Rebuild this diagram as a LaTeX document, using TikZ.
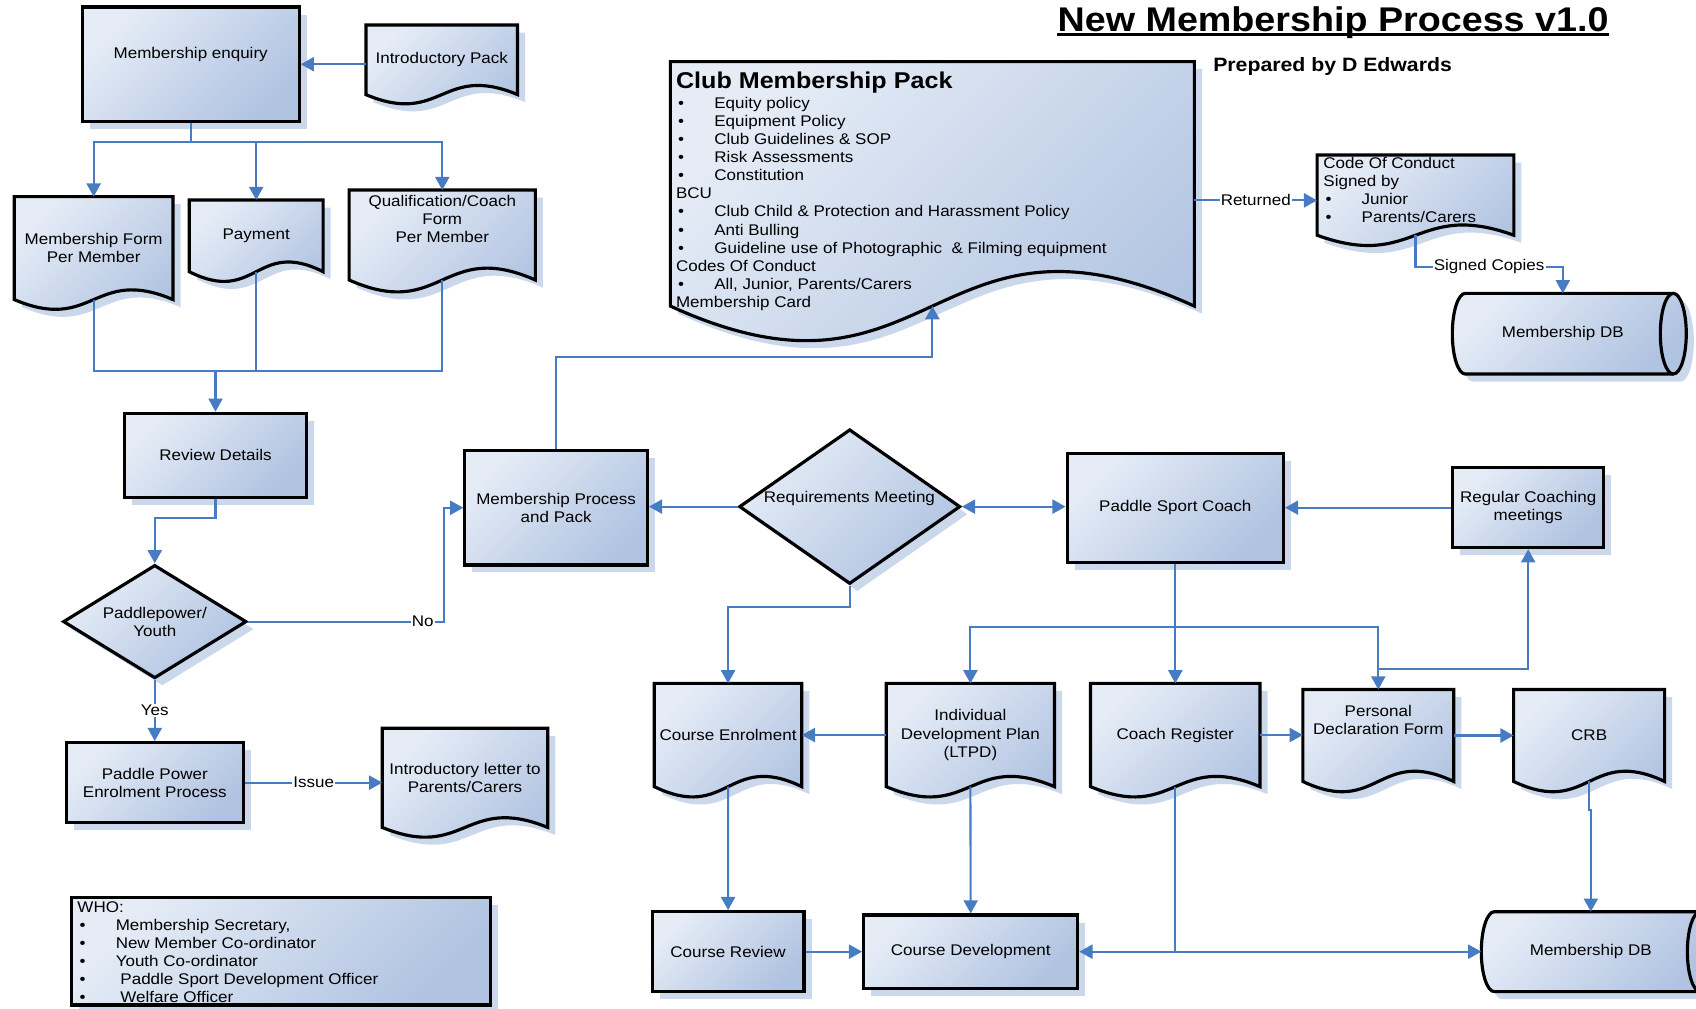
\documentclass[tikz,border=0pt]{standalone}
\usepackage{fontspec}
\setmainfont{Liberation Sans}[FakeStretch=1.1]
\usetikzlibrary{arrows.meta,calc,shapes.geometric,shadows,backgrounds}

\definecolor{boxlight}{RGB}{229,236,246}
\definecolor{boxdark}{RGB}{176,195,225}
\definecolor{shadowblue}{RGB}{203,216,236}
\definecolor{linkblue}{RGB}{72,124,194}

\newcommand\dpx{0.021633cm}
\newcommand\blt{\makebox[21.8pt][l]{\hspace{1.2pt}\textbullet}}

% document: rectangle with a wavy lower edge
\newcommand\docwave[2]{%
  \path[shapefill] (#1.north west) -- (#1.north east) -- (#1.south east)
    .. controls ($(#1.south)+(0,-3.46*#2)$) and ($(#1.south)+(0,3.46*#2)$) .. (#1.south west) -- cycle;}

% stored data: lying drum
\newcommand\drum[2]{%
  \path[shapefill] ($(#1.north west)+(12,0)$) -- (#1.north east)
    arc[start angle=90, end angle=-90, x radius=12*\dpx, y radius=#2*\dpx]
    -- ($(#1.south west)+(12,0)$)
    arc[start angle=270, end angle=90, x radius=12*\dpx, y radius=#2*\dpx] -- cycle;
  \draw[line width=1.8pt] (#1.north east)
    arc[start angle=90, end angle=270, x radius=12*\dpx, y radius=#2*\dpx];}

\tikzset{
  shapefill/.style={draw=black, line width=1.8pt, top color=boxlight, bottom color=boxdark, shading angle=45,
    drop shadow={shadow xshift=4.3pt, shadow yshift=-4.3pt, fill=shadowblue, opacity=1}},
  sz/.style 2 args={minimum width=#1*\dpx, minimum height=#2*\dpx},
  box/.style={shapefill, rectangle, align=center, inner sep=2pt},
  decision/.style={shapefill, diamond, align=center, inner sep=0pt, shape aspect=1.6},
  doc/.style={rectangle, align=center, inner sep=2pt, outer sep=0pt},
  link/.style={draw=linkblue, line width=1.2pt, -{Triangle[length=7.5pt, width=8pt]}},
  twolink/.style={draw=linkblue, line width=1.2pt, {Triangle[length=7.5pt, width=8pt]}-{Triangle[length=7.5pt, width=8pt]}},
  wire/.style={draw=linkblue, line width=1.2pt},
  linklabel/.style={fill=white, inner sep=0.6pt},
  listtext/.style={anchor=north west, inner sep=0pt, align=left},
}

\begin{document}
\begin{tikzpicture}[x=\dpx, y=-\dpx, font=\fontsize{8.8}{10.3}\selectfont]
        \useasboundingbox (0,0) rectangle (1568,932);

        % Title.
        \node[inner sep=0pt, anchor=base, font=\fontsize{19.5}{22}\selectfont\bfseries] (title) at (1232.5,29.3) {New Membership Process v1.0};
        \draw[line width=1.4pt] ([yshift=-1.5pt]title.base west) -- ([yshift=-1.5pt]title.base east);
        \node[inner sep=0pt, anchor=base, font=\fontsize{11}{13}\selectfont\bfseries] (prep) at (1232,66.3) {Prepared by D Edwards};

        % Boxes.
        \node[box, sz={200.6}{105.8}] (enq) at (176.3,59.4) {};
        \node[box, sz={168.9}{77.7}] (review) at (199.25,420.95) {Review Details};
        \node[box, sz={168.7}{105.7}] (mpp) at (514.15,469.45) {Membership Process\\and Pack};
        \node[box, sz={200}{101.1}] (psc) at (1086.6,469.65) {Paddle Sport Coach};
        \node[box, sz={139.7}{73.9}] (rcm) at (1412.85,469.35) {Regular Coaching\\meetings};
        \node[box, sz={164}{74}] (ppe) at (143.1,723.6) {Paddle Power\\Enrolment Process};
        \node[box, sz={140.3}{73.9}] (crev) at (673.15,879.85) {Course Review};
        \node[box, sz={197.9}{67.7}] (cdev) at (897.45,879.85) {Course Development};
        \node[box, sz={387.2}{99.2}] (who) at (259.8,879.5) {};

        % Decisions.
        \node[decision, sz={169.6}{104.8}] (ppy) at (143.1,574.7) {Paddlepower/\\Youth};
        \node[decision, sz={204.5}{143}] (req) at (785.6,468.4) {};

        % Documents.
        \node[doc, sz={140.2}{64.4}] (intro) at (408.4,55.3) {Introductory Pack};
        \node[doc, sz={146.8}{95.2}] (mform) at (86.6,229.4) {Membership Form\\Per Member};
        \node[doc, sz={123.7}{66.3}] (pay) at (236.85,218.05) {Payment};
        \node[doc, sz={172.2}{83.2}] (qual) at (408.9,217.3) {};
        \node[doc, sz={484.4}{226}] (cpack) at (862,170) {};
        \node[doc, sz={181.9}{74.2}] (coc) at (1308.65,180.4) {};
        \node[doc, sz={153}{91.7}] (ilet) at (429.9,719.15) {Introductory letter to\\Parents/Carers};
        \node[doc, sz={136.4}{95.5}] (ce) at (673.1,679.55) {Course Enrolment};
        \node[doc, sz={155.5}{95.5}] (idp) at (897.15,679.55) {Individual\\Development Plan\\(LTPD)};
        \node[doc, sz={156.7}{95.5}] (creg) at (1086.6,679.55) {Coach Register};
        \node[doc, sz={139.5}{85}] (pdf) at (1274.25,680) {};
        \node[doc, sz={139.6}{85}] (crb) at (1469.2,680) {CRB};

        % Stores.
        \node[doc, sz={204.3}{74.6}] (mdb1) at (1444.85,308.5) {Membership DB};
        \node[doc, sz={202.5}{73.9}] (mdb2) at (1470.75,879.85) {Membership DB};

        \begin{scope}[on background layer]
            \docwave{intro}{8.5}
            \docwave{mform}{9}
            \docwave{pay}{9}
            \docwave{qual}{11}
            \docwave{cpack}{32}
            \docwave{coc}{9.5}
            \docwave{ilet}{9}
            \docwave{ce}{9.5}
            \docwave{idp}{9.5}
            \docwave{creg}{9.5}
            \docwave{pdf}{9.5}
            \docwave{crb}{9.5}
            \drum{mdb1}{37.3}
            \drum{mdb2}{36.95}
        \end{scope}

        % Texts set off centre.
        \node (enq-t) at (176.3,50.8) {Membership enquiry};
        \node (req-t) at (785.3,461.3) {Requirements Meeting};
        \node[align=center] (qual-t) at (408.9,202.5) {Qualification/Coach\\Form\\Per Member};
        \node[align=center] (pdf-t) at (1274.25,665.8) {Personal\\Declaration Form};

        \node[listtext] (cpack-t) at (624.7,66.4) {{\fontsize{13}{15}\selectfont\bfseries Club Membership Pack}\\[0.9pt]
            \blt Equity policy\\
            \blt Equipment Policy\\
            \blt Club Guidelines \& SOP\\
            \blt Risk Assessments\\
            \blt Constitution\\
            BCU\\
            \blt Club Child \& Protection and Harassment Policy\\
            \blt Anti Bulling\\
            \blt Guideline use of Photographic~ \& Filming equipment\\
            Codes Of Conduct\\
            \blt All, Junior, Parents/Carers\\
            Membership Card};
        \node[listtext] (coc-t) at (1223.2,144.9) {Code Of Conduct\\Signed by\\\blt Junior\\\blt Parents/Carers};
        \node[listtext] (who-t) at (71.3,833) {WHO:\\\blt Membership Secretary,\\\blt New Member Co-ordinator\\\blt Youth Co-ordinator\\\blt{} Paddle Sport Development Officer\\\blt{} Welfare Officer};

        % Enquiry and forms.
        \coordinate (split1) at (176.3,131);
        \coordinate (join1) at (199.25,343);
        \draw[link] (intro.west |- enq.east) -- (enq.east);
        \draw[wire] (enq.south) -- (split1);
        \draw[link] (split1) -| (mform.north);
        \draw[link] (split1) -| (pay.north);
        \draw[link] (split1) -| (qual.north);
        \draw[wire] (mform.south) |- (join1);
        \draw[wire] (pay.south) |- (join1);
        \draw[wire] (qual.south) |- (join1);
        \draw[link] (join1) -- (review.north);

        % Youth branch.
        \draw[link] (review.south) -- ++(0,18) -| (ppy.north);
        \draw[link] (ppy.east) -- ++(181.3,0) node[linklabel, pos=0.89] (no) {No} |- (mpp.west);
        \draw[link] (ppy.south) -- node[linklabel] (yes) {Yes} (ppe.north);
        \draw[link] (ppe.east) -- node[linklabel] (issue) {Issue} (ppe.east -| ilet.west);

        % Pack.
        \draw[link] (mpp.north) -- ++(0,-85.3) -| (cpack.south);
        \draw[link] ([yshift=-3pt]cpack.east |- coc.west) -- node[linklabel] (returned) {Returned} ([yshift=-3pt]coc.west);
        \draw[link] (coc.south) -- ++(0,29) -| node[linklabel, pos=0.25] (signed) {Signed Copies} (mdb1.north);

        % Coaching.
        \coordinate (split2) at (1086.6,579.4);
        \coordinate (split3) at (1274.25,618.8);
        \draw[link] (req.west) -- (req.west -| mpp.east);
        \draw[twolink] (req.east) -- (req.east -| psc.west);
        \draw[link] (rcm.west) -- (rcm.west -| psc.east);
        \draw[link] (req.south) -- ++(0,20) -| (ce.north);
        \draw[link] (psc.south) -- (creg.north);
        \draw[link] (split2) -| (idp.north);
        \draw[link] (split2) -| (pdf.north);
        \draw[link] (split3) -| (rcm.south);

        % Courses and records.
        \draw[link] (idp.west) -- (ce.east);
        \draw[link] (creg.east) -- (creg.east -| pdf.west);
        \draw[link] (pdf.east) -- (crb.west);
        \draw[link] (ce.south) -- (crev.north);
        \draw[link] (idp.south) -- (cdev.north);
        \draw[link] (crev.east) -- (cdev.west);
        \draw[link] (creg.south) |- (cdev.east);
        \draw[link] (creg.south) |- (mdb2.west);
        \draw[link] (crb.south) -- ++(0,26.5) -| (mdb2.north);

    \end{tikzpicture}
\end{document}
